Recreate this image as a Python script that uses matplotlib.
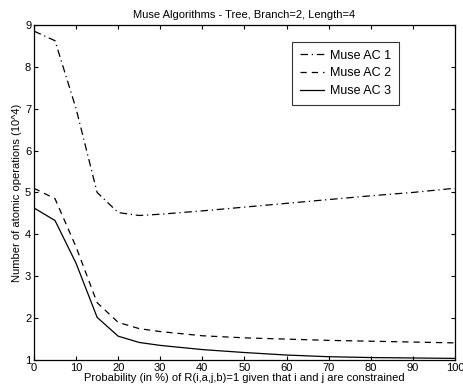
import matplotlib
matplotlib.use("Agg")
import matplotlib.pyplot as plt

plt.rcParams["font.family"] = ["Liberation Sans", "DejaVu Sans"]
plt.rcParams["font.size"] = 8

# probability (%) values
prob = [0, 5, 10, 15, 20, 25, 30, 40, 50, 60, 70, 80, 90, 100]

# number of atomic operations (10^4)
ac1 = [8.85, 8.62, 7.0, 5.0, 4.52, 4.45, 4.48, 4.56, 4.65, 4.74, 4.83, 4.92, 5.0, 5.1]
ac2 = [5.1, 4.85, 3.7, 2.37, 1.9, 1.75, 1.68, 1.58, 1.53, 1.5, 1.47, 1.45, 1.43, 1.41]
ac3 = [4.63, 4.33, 3.31, 2.02, 1.57, 1.42, 1.35, 1.25, 1.18, 1.12, 1.08, 1.06, 1.05, 1.04]

fig = plt.figure(figsize=(4.63, 3.88), dpi=100)
ax = fig.add_axes([0.0734, 0.072, 0.909, 0.864])

ax.plot(prob, ac1, color="black", lw=0.9, linestyle=(0, (6, 3, 1, 3)), label="Muse AC 1")
ax.plot(prob, ac2, color="black", lw=0.9, linestyle=(0, (5, 4)), label="Muse AC 2")
ax.plot(prob, ac3, color="black", lw=0.9, linestyle="-", label="Muse AC 3")

ax.set_xlim(0, 100)
ax.set_ylim(1, 9)
ax.set_xticks(range(0, 101, 10))
ax.set_yticks(range(1, 10))
ax.tick_params(direction="in", top=True, right=True, length=3, pad=2)
for s in ax.spines.values():
    s.set_linewidth(0.9)

ax.set_title("Muse Algorithms - Tree, Branch=2, Length=4", fontsize=8, pad=5)
ax.set_xlabel("Probability (in %) of R(i,a,j,b)=1 given that i and j are constrained", labelpad=0)
ax.set_ylabel("Number of atomic operations (10^4)", labelpad=2)

leg = ax.legend(loc="upper left", bbox_to_anchor=(0.614, 0.948), frameon=True, fancybox=False,
                edgecolor="black", fontsize=9, handlelength=1.9, borderpad=0.6,
                labelspacing=0.45, handletextpad=0.5, borderaxespad=0)
leg.get_frame().set_linewidth(0.8)

fig.savefig("out.png", dpi=100)
